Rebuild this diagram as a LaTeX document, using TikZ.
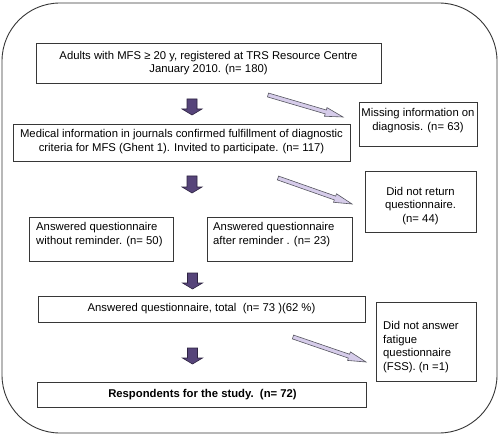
\documentclass[tikz,border=0pt]{standalone}
\usepackage{fontspec}
\setmainfont{Liberation Sans}
\usetikzlibrary{calc}
\definecolor{boxline}{RGB}{55,55,55}
\definecolor{darkpurple}{RGB}{86,68,122}
\definecolor{darkpurpleline}{RGB}{45,35,65}
\definecolor{lavender}{RGB}{214,204,234}
\definecolor{arrowline}{RGB}{85,85,95}
\tikzset{
  box/.style={draw=boxline, line width=0.8pt, inner sep=0pt, minimum width=#1},
  txt/.style={font=\fontsize{11.3}{13.8}\selectfont, inner sep=0pt, text=black},
  downarrow/.style={fill=darkpurple, draw=darkpurpleline, line width=0.6pt},
  diagarrow/.style={fill=lavender, draw=arrowline, line width=0.6pt},
}
% #1 style, #2 tail, #3 tip, #4 shaft half width, #5 head half width, #6 head length
\newcommand\fatarrow[6]{%
  \coordinate (#3h) at ($(#3)!#6!(#2)$);
  \draw[#1] ($(#2)!#4!90:(#3)$) -- ($(#3h)!#4!-90:(#2)$) -- ($(#3h)!#5!-90:(#2)$)
    -- (#3) -- ($(#3h)!#5!90:(#2)$) -- ($(#3h)!#4!90:(#2)$) -- ($(#2)!#4!-90:(#3)$) -- cycle;
}
\begin{document}
\begin{tikzpicture}[x=1pt,y=1pt]
\useasboundingbox (0,0) rectangle (500,437);
\fill[white] (0,0) rectangle (500,437);
% outer frame
\draw[boxline, line width=0.9pt, rounded corners=58pt] (2,437-3) rectangle (497,437-433);

% boxes
\node[box=345pt, minimum height=40pt] (b1) at (208.5,437-63) {};
\node[box=337pt, minimum height=37pt] (b2) at (181.5,437-142.5) {};
\node[box=118pt, minimum height=44pt] (m1) at (418,437-124) {};
\node[box=111pt, minimum height=61pt] (m2) at (420.5,437-201.5) {};
\node[box=144pt, minimum height=44pt] (a1) at (101,437-239) {};
\node[box=145pt, minimum height=44pt] (a2) at (279.5,437-239) {};
\node[box=327pt, minimum height=26pt] (tb) at (201.5,437-309) {};
\node[box=100pt, minimum height=79pt] (m3) at (426,437-341.5) {};
\node[box=329pt, minimum height=25pt] (rb) at (201.5,437-394.5) {};

% texts
\node[txt, align=center] (t1) at (208.5,437-63) {Adults with MFS ≥ 20 y, registered at TRS Resource Centre\\January 2010. (n= 180)};
\node[txt, align=center] (t2) at (181.5,437-141.5) {Medical information in journals confirmed fulfillment of diagnostic\\criteria for MFS (Ghent 1). Invited to participate. (n= 117)};
\node[txt, align=center] (tm1) at (418,437-120.5) {Missing information on\\diagnosis. (n= 63)};
\node[txt, align=center] (tm2) at (420.5,437-206) {Did not return\\questionnaire.\\(n= 44)};
\node[txt, align=left, anchor=north west] (ta1) at (36,437-222) {Answered questionnaire\\without reminder. (n= 50)};
\node[txt, align=left, anchor=north west] (ta2) at (213,437-222) {Answered questionnaire\\after reminder . (n= 23)};
\node[txt] (ttb) at (201.5,437-309) {Answered questionnaire, total\ \ (n= 73 )(62 \%)};
\node[txt, align=left, anchor=north west] (tm3) at (383,437-321) {Did not answer\\fatigue\\questionnaire\\(FSS). (n =1)};
\node[txt, font=\fontsize{11.3}{13.8}\selectfont\bfseries] (trb) at (202.5,437-394.5) {Respondents for the study.\ \ (n= 72)};

% down arrows
\coordinate (d1s) at (192,437-99);   \coordinate (d1e) at (192,437-115);
\coordinate (d2s) at (192,437-176);  \coordinate (d2e) at (192,437-193);
\coordinate (d3s) at (192.5,437-273); \coordinate (d3e) at (192.5,437-289);
\coordinate (d4s) at (192.5,437-348); \coordinate (d4e) at (192.5,437-364);
\fatarrow{downarrow}{d1s}{d1e}{5pt}{10pt}{6pt}
\fatarrow{downarrow}{d2s}{d2e}{5pt}{10pt}{6pt}
\fatarrow{downarrow}{d3s}{d3e}{5pt}{10pt}{6pt}
\fatarrow{downarrow}{d4s}{d4e}{5pt}{10pt}{6pt}

% diagonal arrows
\coordinate (g1s) at (268,437-95);  \coordinate (g1e) at (343,437-117);
\coordinate (g2s) at (278,437-178); \coordinate (g2e) at (352,437-204);
\coordinate (g3s) at (293,437-337); \coordinate (g3e) at (366,437-362);
\fatarrow{diagarrow}{g1s}{g1e}{2pt}{4.5pt}{18pt}
\fatarrow{diagarrow}{g2s}{g2e}{2pt}{4.5pt}{18pt}
\fatarrow{diagarrow}{g3s}{g3e}{2pt}{4.5pt}{18pt}
\end{tikzpicture}
\end{document}
